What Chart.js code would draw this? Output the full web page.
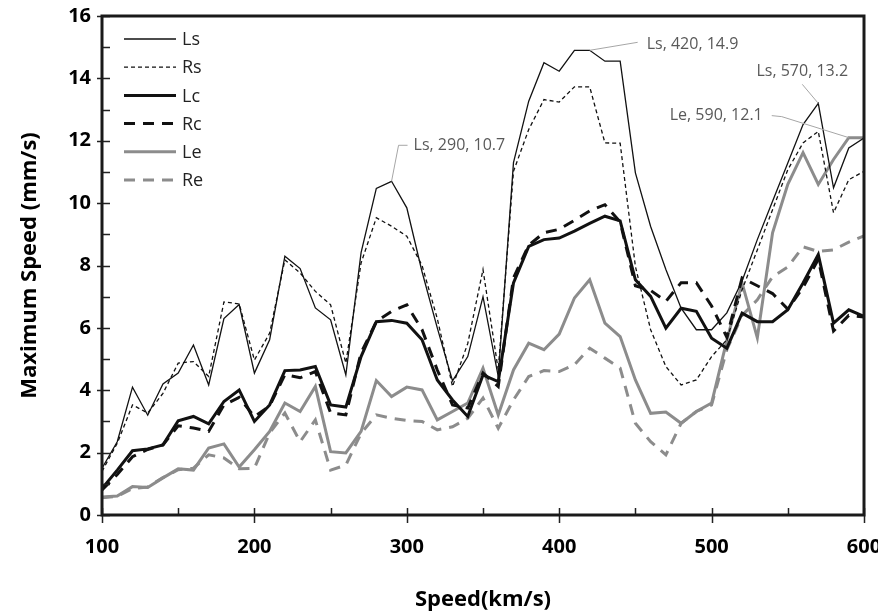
<!DOCTYPE html>
<html lang="en">
<head>
<meta charset="utf-8">
<script src="https://cdn.jsdelivr.net/npm/chart.js@4.4.1/dist/chart.umd.min.js"></script>
<style>
  body { margin: 0; background: #fff; }
</style>
</head>
<body>
<canvas id="speedChart" width="878" height="616"></canvas>
<script>
// speed (km/s) on the x axis
const speeds = [100, 110, 120, 130, 140, 150, 160, 170, 180, 190,
                200, 210, 220, 230, 240, 250, 260, 270, 280, 290,
                300, 310, 320, 330, 340, 350, 360, 370, 380, 390,
                400, 410, 420, 430, 440, 450, 460, 470, 480, 490,
                500, 510, 520, 530, 540, 550, 560, 570, 580, 590, 600];

// maximum speed (mm/s) per sensor
const Ls = [1.5, 2.35, 4.1, 3.2, 4.2, 4.55, 5.45, 4.17, 6.3, 6.75, 4.55,
            5.62, 8.3, 7.9, 6.64, 6.26, 4.49, 8.41, 10.47, 10.7, 9.85,
            7.8, 6.0, 4.3, 5.08, 7.0, 4.44, 11.3, 13.27, 14.5, 14.23,
            14.9, 14.9, 14.55, 14.55, 10.97, 9.25, 7.87, 6.63, 5.94, 5.94,
            6.48, 7.5, 8.83, 10.06, 11.29, 12.52, 13.2, 10.49, 11.77, 12.09];
const Rs = [1.4, 2.3, 3.53, 3.27, 3.9, 4.87, 4.92, 4.44, 6.83, 6.77, 4.97,
            5.83, 8.18, 7.76, 7.17, 6.74, 4.87, 8.08, 9.53, 9.26, 8.94,
            8.0, 6.3, 4.12, 5.5, 7.87, 4.65, 11.02, 12.36, 13.32, 13.24,
            13.73, 13.73, 11.93, 11.92, 7.97, 5.94, 4.76, 4.17, 4.33, 5.08,
            5.62, 7.22, 8.5, 9.79, 11.07, 11.93, 12.3, 9.69, 10.75, 11.02];
const Lc = [0.85, 1.44, 2.06, 2.12, 2.25, 3.02, 3.16, 2.92, 3.64, 4.01, 3.0,
            3.53, 4.63, 4.65, 4.76, 3.53, 3.46, 5.08, 6.2, 6.24, 6.15,
            5.62, 4.33, 3.69, 3.16, 4.49, 4.28, 7.44, 8.61, 8.83, 8.88,
            9.1, 9.35, 9.58, 9.43, 7.54, 7.01, 5.99, 6.63, 6.53, 5.67,
            5.35, 6.47, 6.2, 6.2, 6.58, 7.44, 8.35, 6.15, 6.58, 6.37];
const Rc = [0.8, 1.3, 1.87, 2.1, 2.25, 2.86, 2.79, 2.68, 3.53, 3.77, 3.15,
            3.5, 4.5, 4.4, 4.6, 3.27, 3.21, 5.2, 6.2, 6.53, 6.74,
            5.94, 4.65, 3.53, 3.43, 4.55, 4.12, 7.6, 8.65, 9.05, 9.16,
            9.45, 9.75, 9.95, 9.4, 7.35, 7.2, 6.85, 7.45, 7.45, 6.7,
            5.7, 7.6, 7.35, 7.1, 6.6, 7.3, 8.2, 5.9, 6.4, 6.35];
const Le = [0.58, 0.61, 0.91, 0.88, 1.19, 1.48, 1.44, 2.15, 2.28, 1.54, 2.09,
            2.68, 3.59, 3.32, 4.12, 2.03, 1.99, 2.68, 4.31, 3.8, 4.1,
            4.01, 3.05, 3.32, 3.59, 4.71, 3.21, 4.65, 5.51, 5.3, 5.8,
            6.96, 7.54, 6.15, 5.72, 4.33, 3.26, 3.3, 2.94, 3.32, 3.59,
            5.6, 7.44, 5.68, 9.05, 10.6, 11.62, 10.6, 11.4, 12.1, 12.1];
const Re = [0.55, 0.6, 0.85, 0.9, 1.2, 1.45, 1.5, 1.93, 1.83, 1.48, 1.5,
            2.63, 3.27, 2.35, 3.05, 1.44, 1.6, 2.62, 3.21, 3.1, 3.03,
            3.0, 2.73, 2.83, 3.1, 3.75, 2.78, 3.69, 4.44, 4.63, 4.6,
            4.82, 5.35, 5.03, 4.71, 2.94, 2.35, 1.93, 2.94, 3.32, 3.53,
            5.3, 6.4, 6.9, 7.64, 7.95, 8.6, 8.45, 8.5, 8.75, 8.95];

// labelled points: series name + speed, label placement relative to the point
const callouts = [
    { series: 'Ls', speed: 290, path: [[7, -36], [16, -36]], text: [22, -36, 'left'] },
    { series: 'Ls', speed: 420, path: [[48, -8]], text: [57, -6, 'left'] },
    { series: 'Ls', speed: 570, path: [[-16, -19]], text: [-16, -32, 'center'] },
    { series: 'Le', speed: 590, path: [[-67, -21], [-77, -22]], text: [-86, -22, 'right'] }
];

const BLACK = '#111111';
const GREY = '#8c8c8c';
const FONT = "'Open Sans', 'Liberation Sans', sans-serif";

function pts(arr) {
    return speeds.map((s, i) => ({ x: s, y: arr[i] }));
}

const series = [
    { label: 'Ls', data: pts(Ls), borderColor: BLACK, borderWidth: 1.3, borderDash: [] },
    { label: 'Rs', data: pts(Rs), borderColor: BLACK, borderWidth: 1.3, borderDash: [4, 3] },
    { label: 'Lc', data: pts(Lc), borderColor: BLACK, borderWidth: 3, borderDash: [] },
    { label: 'Rc', data: pts(Rc), borderColor: BLACK, borderWidth: 3, borderDash: [11, 8] },
    { label: 'Le', data: pts(Le), borderColor: GREY, borderWidth: 3, borderDash: [] },
    { label: 'Re', data: pts(Re), borderColor: GREY, borderWidth: 3, borderDash: [11, 8] }
];

// frame, inside tick marks, legend and callouts
const decorations = {
    id: 'decorations',
    afterDraw(chart) {
        const ctx = chart.ctx;
        const area = chart.chartArea;
        const xs = chart.scales.x, ys = chart.scales.y;
        ctx.save();

        // tick marks
        ctx.strokeStyle = '#222';
        ctx.lineWidth = 1.5;
        ctx.beginPath();
        for (let v = 0; v <= 16; v++) {
            const py = Math.round(ys.getPixelForValue(v)) + 0.5;
            ctx.moveTo(area.left - (v % 2 === 0 ? 5 : 0), py);
            ctx.lineTo(area.left + 8, py);
        }
        for (let v = 100; v <= 600; v += 50) {
            const px = Math.round(xs.getPixelForValue(v)) + 0.5;
            ctx.moveTo(px, area.bottom - 7);
            ctx.lineTo(px, area.bottom + (v % 100 === 0 ? 8 : 0));
        }
        ctx.stroke();

        // frame
        ctx.lineWidth = 3;
        ctx.strokeStyle = '#1a1a1a';
        ctx.strokeRect(area.left, area.top, area.right - area.left, area.bottom - area.top);

        // legend
        ctx.font = '18px ' + FONT;
        ctx.textBaseline = 'middle';
        ctx.textAlign = 'left';
        chart.data.datasets.forEach((ds, i) => {
            const y = area.top + 23 + i * 28.2;
            ctx.beginPath();
            ctx.setLineDash(ds.borderDash);
            ctx.lineWidth = ds.borderWidth;
            ctx.strokeStyle = ds.borderColor;
            ctx.moveTo(area.left + 22, y);
            ctx.lineTo(area.left + 74, y);
            ctx.stroke();
            ctx.setLineDash([]);
            ctx.fillStyle = '#222';
            ctx.fillText(ds.label, area.left + 80, y + 1);
        });

        // callouts
        ctx.font = '16px ' + FONT;
        callouts.forEach(c => {
            const dsIndex = chart.data.datasets.findIndex(d => d.label === c.series);
            const idx = speeds.indexOf(c.speed);
            const value = chart.data.datasets[dsIndex].data[idx].y;
            const px = xs.getPixelForValue(c.speed);
            const py = ys.getPixelForValue(value);
            ctx.beginPath();
            ctx.strokeStyle = '#a6a6a6';
            ctx.lineWidth = 1;
            ctx.moveTo(px, py);
            c.path.forEach(p => ctx.lineTo(px + p[0], py + p[1]));
            ctx.stroke();
            ctx.fillStyle = '#595959';
            ctx.textAlign = c.text[2];
            ctx.fillText(c.series + ', ' + c.speed + ', ' + value.toFixed(1), px + c.text[0], py + c.text[1]);
        });
        ctx.restore();
    }
};

const ctx = document.getElementById('speedChart');
const speedChart = new Chart(ctx, {
    type: 'line',
    data: { datasets: series },
    options: {
        responsive: false,
        animation: false,
        devicePixelRatio: 1,
        layout: { padding: { top: 16, right: 14, left: 0, bottom: 0 }, autoPadding: false },
        elements: {
            point: { radius: 0 },
            line: { tension: 0, fill: false, borderCapStyle: 'butt', borderJoinStyle: 'miter' }
        },
        plugins: {
            legend: { display: false },
            tooltip: { enabled: false }
        },
        scales: {
            x: {
                type: 'linear',
                min: 100,
                max: 600,
                grid: { display: false, drawTicks: false },
                border: { display: false },
                ticks: { stepSize: 100, padding: 20, color: '#000', font: { family: FONT, size: 20, weight: 'bold' } },
                title: { display: true, text: 'Speed(km/s)', color: '#000', padding: { top: 0, bottom: 3 },
                         font: { family: FONT, size: 22, weight: 'bold' } },
                afterFit(scale) {
                    scale.height = 101;
                    scale.paddingLeft = 0;
                    scale.paddingRight = 0;
                }
            },
            y: {
                min: 0,
                max: 16,
                grid: { display: false, drawTicks: false },
                border: { display: false },
                ticks: { stepSize: 2, padding: 11, color: '#000', font: { family: FONT, size: 20, weight: 'bold' } },
                title: { display: true, text: 'Maximum Speed (mm/s)', color: '#000', padding: { top: 17, bottom: 0 },
                         font: { family: FONT, size: 22, weight: 'bold' } },
                afterFit(scale) {
                    scale.width = 102;
                    scale.paddingTop = 0;
                    scale.paddingBottom = 0;
                }
            }
        }
    },
    plugins: [decorations]
});
</script>
</body>
</html>
